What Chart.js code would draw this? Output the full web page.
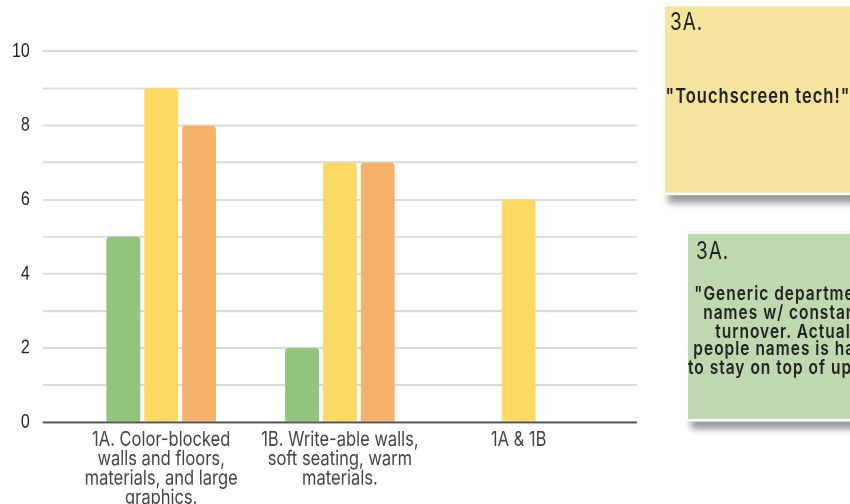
<!DOCTYPE html>
<html lang="en">
<head>
  <meta charset="UTF-8" />
  <title>Feedback bar chart</title>
  <script src="https://cdn.jsdelivr.net/npm/chart.js"></script>
  <style>
    body {
      margin: 0;
      background: #fff;
      overflow: hidden;
    }
    .wrap {
      position: relative;
      width: 850px;
      height: 504px;
      overflow: hidden;
    }
    /* the reference picture is stretched vertically, so the whole board is too */
    .board {
      position: absolute;
      left: 0;
      top: 0;
      width: 850px;
      height: 403px;
      transform: scaleY(1.2506);
      transform-origin: 0 0;
    }
    .note {
      position: absolute;
      box-sizing: border-box;
      border: 2px solid #fff;
      box-shadow: 5px 7px 6px rgba(0, 0, 0, 0.4);
      font-family: Inter, 'Open Sans', sans-serif;
      color: #222;
    }
    .note .tag {
      position: absolute;
      font-size: 19px;
      line-height: 20px;
      letter-spacing: 1px;
    }
    .note .quote {
      position: absolute;
      font-weight: 600;
      text-align: center;
      white-space: nowrap;
    }
    #noteYellow {
      left: 663px;
      top: 3px;
      width: 190px;
      height: 153px;
      background: #f5e49e;
    }
    #noteYellow .tag {
      left: 5px;
      top: 3px;
    }
    #noteYellow .quote {
      left: 0;
      width: 186px;
      top: 62px;
      font-size: 16.5px;
      line-height: 19px;
      letter-spacing: 1px;
    }
    #noteGreen {
      left: 686px;
      top: 185px;
      width: 230px;
      height: 152px;
      background: #bfd8b0;
    }
    #noteGreen .tag {
      left: 8px;
      top: 4px;
    }
    #noteGreen .quote {
      left: 0;
      width: 190px;
      top: 41px;
      font-size: 15.5px;
      line-height: 14.8px;
      letter-spacing: 1px;
    }
  </style>
</head>
<body>
  <div class="wrap">
    <div class="board">
      <canvas id="chart"></canvas>
      <div class="note" id="noteYellow">
        <div class="tag">3A.</div>
        <div class="quote">"Touchscreen tech!"</div>
      </div>
      <div class="note" id="noteGreen">
        <div class="tag">3A.</div>
        <div class="quote">"Generic department<br>names w/ constant<br>turnover. Actual<br>people names is hard<br>to stay on top of updates."</div>
      </div>
    </div>
  </div>

  <script>
    // categories (multi-line labels as in the picture)
    const categories = [
      ['1A. Color-blocked', 'walls and floors,', 'materials, and large', 'graphics.'],
      ['1B. Write-able walls,', 'soft seating, warm', 'materials.'],
      '1A & 1B'
    ];
    const greenValues = [5, 2, 0];
    const yellowValues = [9, 7, 6];
    const orangeValues = [8, 7, 0];

    const yMin = 0;
    const yMax = 10;
    const yStep = 1;

    // zero line is the dark baseline, the rest light grey
    const gridColor = ctx => (ctx.tick && ctx.tick.value === 0 ? '#555' : '#dadada');

    const canvas = document.getElementById('chart');
    canvas.width = 850;
    canvas.height = 403;

    const barStyle = { borderRadius: { topLeft: 3, topRight: 3 }, borderSkipped: 'start' };

    new Chart(canvas.getContext('2d'), {
      type: 'bar',
      data: {
        labels: categories,
        datasets: [
          { label: 'Green', data: greenValues, backgroundColor: '#93c47d', ...barStyle },
          { label: 'Yellow', data: yellowValues, backgroundColor: '#ffd966', ...barStyle },
          { label: 'Orange', data: orangeValues, backgroundColor: '#f6b26b', ...barStyle }
        ]
      },
      options: {
        responsive: false,
        animation: false,
        devicePixelRatio: 2,
        categoryPercentage: 0.635,
        barPercentage: 0.895,
        layout: {
          padding: { top: 41, left: -1, right: 213, bottom: -8.6 }
        },
        scales: {
          x: {
            grid: { display: false, drawTicks: false },
            border: { display: false },
            ticks: {
              autoSkip: false,
              maxRotation: 0,
              minRotation: 0,
              padding: 6,
              color: '#444',
              font: { family: "Inter, 'Open Sans', sans-serif", size: 16.5, lineHeight: '15.5px' }
            }
          },
          y: {
            position: 'left',
            min: yMin,
            max: yMax,
            border: { display: false },
            grid: { color: gridColor, lineWidth: 1.6, tickLength: 29 },
            ticks: {
              stepSize: yStep,
              padding: 13,
              color: '#222',
              font: { family: "'Liberation Sans', Arial, sans-serif", size: 16 },
              callback: v => (v % 2 === 0 ? v : '')
            }
          },
          y2: {
            type: 'linear',
            position: 'right',
            min: yMin,
            max: yMax,
            border: { display: false },
            grid: { color: gridColor, lineWidth: 1.6, tickLength: 29, drawOnChartArea: false },
            ticks: { stepSize: yStep, display: false }
          }
        },
        plugins: {
          legend: { display: false },
          tooltip: { enabled: false }
        }
      }
    });
  </script>
</body>
</html>
